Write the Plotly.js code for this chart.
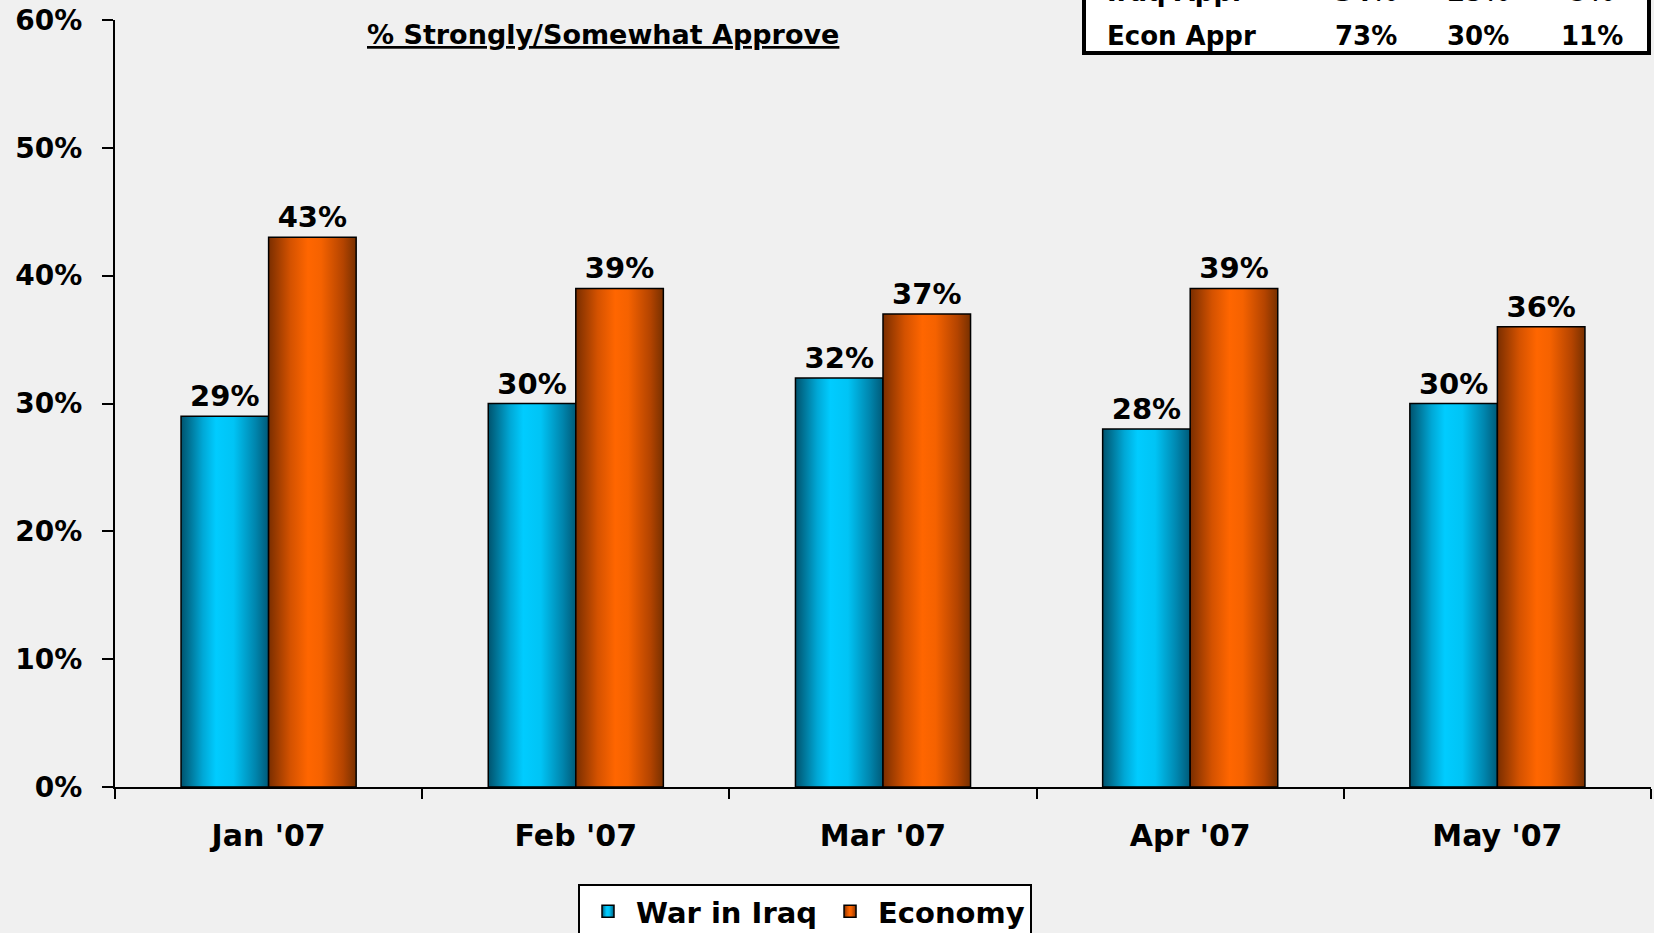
<!DOCTYPE html>
<html>
<head>
<meta charset="utf-8">
<script src="https://cdn.plot.ly/plotly-3.0.1.min.js"></script>
<style>
html,body{margin:0;padding:0;background:#F0F0F0;}
#chart{width:1654px;height:933px;}
</style>
</head>
<body>
<div id="chart"></div>
<script>
var categories = ["Jan '07", "Feb '07", "Mar '07", "Apr '07", "May '07"];
var iraqValues = [29, 30, 32, 28, 30];
var economyValues = [43, 39, 37, 39, 36];
var seriesNames = ["War in Iraq", "Economy"];
var chartTitle = "% Strongly/Somewhat Approve";
var tableRowLabels = ["Iraq Appr", "Econ Appr"];
var tableRowValues = [["34%", "25%", "9%"], ["73%", "30%", "11%"]];

var FONT = "DejaVu Sans, Arial, sans-serif";
function pct(v){ return v + "%"; }

var traces = [
  {
    type: "bar", name: seriesNames[0], x: categories, y: iraqValues,
    text: iraqValues.map(pct), textposition: "outside", cliponaxis: false,
    textfont: {family: FONT, size: 29, color: "#000", weight: "bold"},
    marker: {color: "#00CCFF", line: {color: "#000", width: 1.5}},
    hoverinfo: "none"
  },
  {
    type: "bar", name: seriesNames[1], x: categories, y: economyValues,
    text: economyValues.map(pct), textposition: "outside", cliponaxis: false,
    textfont: {family: FONT, size: 29, color: "#000", weight: "bold"},
    marker: {color: "#FF6600", line: {color: "#000", width: 1.5}},
    hoverinfo: "none"
  }
];

var plotL = 115, plotR = 1651, plotT = 20, plotB = 787;
var pw = plotR - plotL, ph = plotB - plotT;
function px(X){ return (X - plotL) / pw; }
function py(Y){ return (plotB - Y) / ph; }

var annotations = [
  {
    text: chartTitle, xref: "paper", yref: "paper", x: px(603), y: py(34),
    xanchor: "center", yanchor: "middle", showarrow: false,
    font: {family: FONT, size: 27, color: "#000", weight: "bold", lineposition: "under"}
  }
];
var rowCenters = [-8, 36];
var colCenters = [1366, 1478, 1592];
tableRowLabels.forEach(function(lbl, r){
  annotations.push({
    text: lbl, xref: "paper", yref: "paper", x: px(1105), y: py(rowCenters[r]),
    xanchor: "left", yanchor: "middle", showarrow: false,
    font: {family: FONT, size: 26, color: "#000", weight: "bold"}
  });
  tableRowValues[r].forEach(function(v, c){
    annotations.push({
      text: v, xref: "paper", yref: "paper", x: px(colCenters[c]), y: py(rowCenters[r]),
      xanchor: "center", yanchor: "middle", showarrow: false,
      font: {family: FONT, size: 26, color: "#000", weight: "bold"}
    });
  });
});

var layout = {
  width: 1654, height: 933,
  paper_bgcolor: "#F0F0F0", plot_bgcolor: "#F0F0F0",
  margin: {l: plotL, r: 1654 - plotR, t: plotT, b: 933 - plotB, pad: 0, autoexpand: false},
  barmode: "group", bargap: 0.43, bargroupgap: 0,
  showlegend: true,
  legend: {
    orientation: "h", x: px(805), xanchor: "center", y: py(884), yanchor: "top",
    bgcolor: "#FFFFFF", bordercolor: "#000", borderwidth: 2,
    font: {family: FONT, size: 29, color: "#000", weight: "bold"},
    itemwidth: 46, tracegroupgap: 0,
    itemclick: false, itemdoubleclick: false
  },
  xaxis: {
    type: "category", tickson: "boundaries", ticks: "outside", ticklen: 10, tickwidth: 2, tickcolor: "#000",
    showline: true, linecolor: "#000", linewidth: 2, showgrid: false, zeroline: false,
    tickfont: {family: FONT, size: 30, color: "#000", weight: "bold"},
    ticklabelstandoff: 21, fixedrange: true, automargin: false
  },
  yaxis: {
    range: [0, 60], dtick: 10, tick0: 0, ticksuffix: "%", ticks: "outside", ticklen: 11, tickwidth: 2, tickcolor: "#000",
    showline: true, linecolor: "#000", linewidth: 2, showgrid: false, zeroline: false,
    tickfont: {family: FONT, size: 28, color: "#000", weight: "bold"},
    ticklabelstandoff: 14, fixedrange: true, automargin: false
  },
  shapes: [
    {
      type: "rect", xref: "paper", yref: "paper", layer: "below",
      x0: px(1084), x1: px(1649), y0: py(53), y1: py(-60),
      fillcolor: "#FFFFFF", line: {color: "#000", width: 4}
    }
  ],
  annotations: annotations
};

function applyGradients(gd){
  var svg = gd.querySelector("svg.main-svg");
  if (!svg) return;
  var NS = "http://www.w3.org/2000/svg";
  var defs = svg.querySelector("defs");
  if (!defs){ defs = document.createElementNS(NS, "defs"); svg.insertBefore(defs, svg.firstChild); }
  function grad(id, stops){
    var g = document.createElementNS(NS, "linearGradient");
    g.setAttribute("id", id);
    g.setAttribute("x1", "0"); g.setAttribute("y1", "0");
    g.setAttribute("x2", "1"); g.setAttribute("y2", "0");
    stops.forEach(function(s){
      var st = document.createElementNS(NS, "stop");
      st.setAttribute("offset", s[0]);
      st.setAttribute("stop-color", s[1]);
      g.appendChild(st);
    });
    defs.appendChild(g);
  }
  grad("gradIraq", [[0, "#00536e"], [0.25, "#00a8d6"], [0.4, "#00CCFF"], [0.6, "#00C4F5"], [0.85, "#0085ad"], [1, "#005a78"]]);
  grad("gradEcon", [[0, "#7a2e00"], [0.25, "#d45200"], [0.45, "#FF6600"], [0.6, "#f56200"], [0.85, "#b44400"], [1, "#773000"]]);
  var ids = ["gradIraq", "gradEcon"];
  var traceGroups = gd.querySelectorAll(".barlayer .trace.bars");
  traceGroups.forEach(function(tg, i){
    tg.querySelectorAll(".point path").forEach(function(p){ p.style.fill = "url(#" + ids[i] + ")"; });
  });
  var legItems = gd.querySelectorAll(".legend .traces");
  legItems.forEach(function(li, i){
    li.querySelectorAll(".legendpoints path").forEach(function(p){ p.style.fill = "url(#" + ids[i] + ")"; });
  });
}

Plotly.newPlot("chart", traces, layout, {displayModeBar: false, staticPlot: true}).then(function(gd){
  applyGradients(gd);
});
</script>
</body>
</html>
